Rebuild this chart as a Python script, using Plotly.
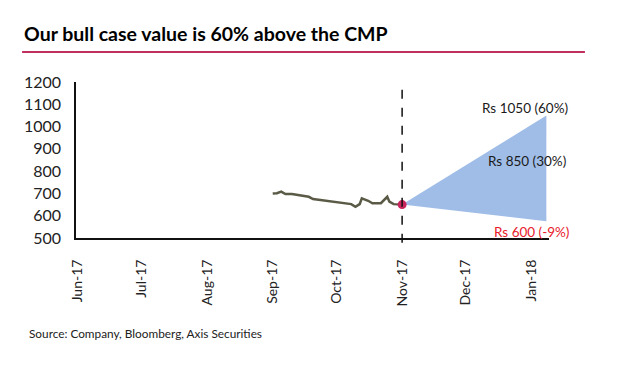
import plotly.graph_objects as go

# ---- data ----
price_dates = ["2017-09-01", "2017-09-03", "2017-09-05", "2017-09-07", "2017-09-10",
               "2017-09-13", "2017-09-15", "2017-09-18", "2017-09-20", "2017-09-24",
               "2017-09-28", "2017-10-03", "2017-10-06", "2017-10-08", "2017-10-10",
               "2017-10-12", "2017-10-13", "2017-10-16", "2017-10-18", "2017-10-22",
               "2017-10-25", "2017-10-26", "2017-10-28", "2017-10-30", "2017-11-01"]
price_values = [700, 701, 708, 697, 697, 693, 690, 685, 675, 670,
                667, 658, 655, 652, 640, 652, 678, 667, 656, 656,
                685, 663, 652, 652, 650]

cmp_date = "2017-11-01"
cmp_value = 650
target_date = "2018-01-08"
bull_value = 1050
base_value = 850
bear_value = 575

labels = ["Rs 1050 (60%)", "Rs 850 (30%)", "Rs 600 (-9%)"]
label_dates = ["2017-12-29", "2017-12-30", "2018-01-01"]
label_values = [1083, 845, 527]
label_colors = ["#1a1a1a", "#1a1a1a", "#e8202a"]

tick_dates = ["2017-06-01", "2017-07-01", "2017-08-01", "2017-09-01",
              "2017-10-01", "2017-11-01", "2017-12-01", "2018-01-01"]
tick_text = ["Jun-17", "Jul-17", "Aug-17", "Sep-17", "Oct-17", "Nov-17", "Dec-17", "Jan-18"]
y_ticks = [500, 600, 700, 800, 900, 1000, 1100, 1200]

FONT = "Lato"
OFF = 8  # page body margin offset

fig = go.Figure()

# cone
fig.add_trace(go.Scatter(
    x=[cmp_date, target_date, target_date, cmp_date],
    y=[cmp_value, bull_value, bear_value, cmp_value],
    fill="toself", fillcolor="#a0bde8", mode="lines",
    line=dict(width=0, color="#a0bde8"), hoverinfo="skip", showlegend=False))

# price line
fig.add_trace(go.Scatter(
    x=price_dates, y=price_values, mode="lines",
    line=dict(color="#5a5a46", width=2.5), showlegend=False))

# CMP dot
fig.add_trace(go.Scatter(
    x=[cmp_date], y=[cmp_value], mode="markers",
    marker=dict(color="#c8245e", size=9), showlegend=False))

# dashed vertical line
fig.add_shape(type="line", xref="x", yref="paper", x0=cmp_date, x1=cmp_date,
              y0=-0.03, y1=1, line=dict(color="#111111", width=1.5, dash="dash"))

# title underline
fig.add_shape(type="line", xref="paper", yref="paper", x0=-0.114, x1=1.076,
              y0=1.192, y1=1.192, line=dict(color="#c0305e", width=2))

for t, d, v, c in zip(labels, label_dates, label_values, label_colors):
    fig.add_annotation(x=d, y=v, text=t, showarrow=False, xanchor="center",
                       yanchor="middle", font=dict(family=FONT, size=13.5, color=c))

fig.add_annotation(xref="paper", yref="paper", x=-0.1036, y=-0.609,
                   text="Source: Company, Bloomberg, Axis Securities", showarrow=False,
                   xanchor="left", yanchor="middle",
                   font=dict(family=FONT, size=11.8, color="#222222"))

W, H = 618 - OFF, 365 - OFF
fig.update_layout(
    width=W, height=H,
    margin=dict(l=76 - OFF, r=69, t=82 - OFF, b=127),
    paper_bgcolor="white", plot_bgcolor="white",
    title=dict(text="Our bull case value is 60% above the CMP",
               xref="container", yref="container", x=(24 - OFF) / W, y=1 - (34 - OFF) / H,
               xanchor="left", yanchor="middle",
               font=dict(family=FONT, size=19.5, color="#000000", weight="bold")),
    xaxis=dict(type="date", range=["2017-05-31 06:00", "2018-01-09 06:00"],
               tickvals=tick_dates, ticktext=tick_text, tickangle=-90,
               showgrid=False, zeroline=False, showline=True,
               linecolor="#111111", linewidth=2, ticks="",
               ticklabelstandoff=14,
               tickfont=dict(family=FONT, size=14, color="#222222")),
    yaxis=dict(range=[500, 1200], tickvals=y_ticks, showgrid=False, zeroline=False,
               showline=True, linecolor="#111111", linewidth=1.5, ticks="",
               ticklabelstandoff=10,
               tickfont=dict(family=FONT, size=16, color="#222222")),
)

fig.write_html("out.html")
